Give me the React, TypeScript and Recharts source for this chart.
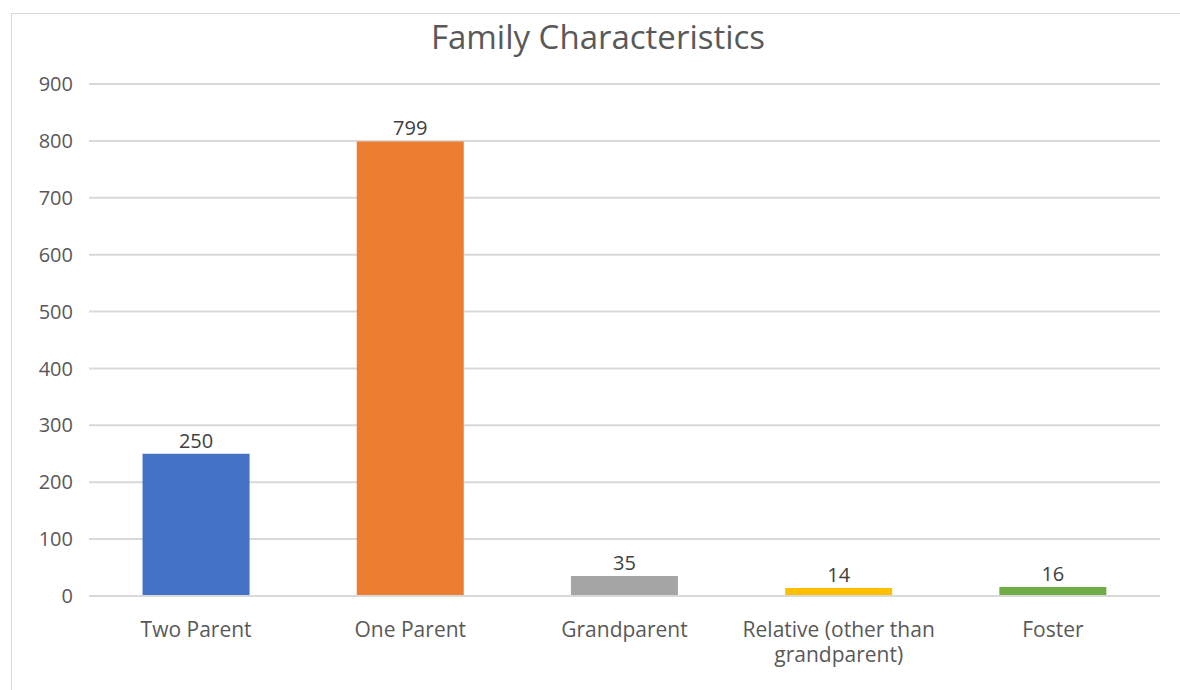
import React from "react";
import { BarChart, Bar, XAxis, YAxis, CartesianGrid, LabelList, Cell, Text } from "recharts";

const categories = ["Two Parent", "One Parent", "Grandparent", "Relative (other than grandparent)", "Foster"];
const counts = [250, 799, 35, 14, 16];
const barColors = ["#4472C4", "#ED7D31", "#A5A5A5", "#FFC000", "#70AD47"];
const yTicks = [0, 100, 200, 300, 400, 500, 600, 700, 800, 900];

const data = categories.map((name, i) => ({ name, count: counts[i] }));

const font = "'Open Sans', 'Liberation Sans', sans-serif";

// wraps long category names the way the original does
function CategoryTick(props: any) {
    const { x, y, payload } = props;
    return (
        <Text
            x={x}
            y={y}
            width={215}
            textAnchor="middle"
            verticalAnchor="start"
            lineHeight="1.2em"
            fill="#595959"
            style={{ fontSize: 21, fontFamily: font }}
        >
            {payload.value}
        </Text>
    );
}

export default function App() {
    return (
        <div style={{ position: "absolute", left: 0, top: 0, width: 1180, height: 690, overflow: "hidden", background: "#fff", fontFamily: font }}>
            <div style={{ position: "absolute", left: 11, top: 13, width: 1180, height: 700, border: "1px solid #d9d9d9" }} />
            <div style={{ position: "absolute", left: 0, top: 14, width: 1196, textAlign: "center", fontSize: 33, color: "#595959" }}>
                Family Characteristics
            </div>
            <div style={{ position: "absolute", left: 0, top: 0 }}>
                <BarChart
                    width={1180}
                    height={690}
                    data={data}
                    margin={{ top: 84, right: 20, bottom: 34, left: 29 }}
                    barCategoryGap="25%"
                >
                    <CartesianGrid vertical={false} stroke="#d9d9d9" strokeWidth={2} />
                    <XAxis
                        dataKey="name"
                        interval={0}
                        tickLine={false}
                        axisLine={{ stroke: "#d9d9d9", strokeWidth: 2 }}
                        tickMargin={20}
                        height={60}
                        tick={<CategoryTick />}
                    />
                    <YAxis
                        domain={[0, 900]}
                        ticks={yTicks}
                        tickLine={false}
                        axisLine={false}
                        width={60}
                        tickMargin={10}
                        tick={{ fill: "#595959", fontSize: 20, fontFamily: font }}
                    />
                    <Bar dataKey="count" isAnimationActive={false}>
                        {data.map((d, i) => (
                            <Cell key={d.name} fill={barColors[i]} />
                        ))}
                        <LabelList dataKey="count" position="top" offset={6} fill="#404040" fontSize={20} fontFamily={font} />
                    </Bar>
                </BarChart>
            </div>
        </div>
    );
}
